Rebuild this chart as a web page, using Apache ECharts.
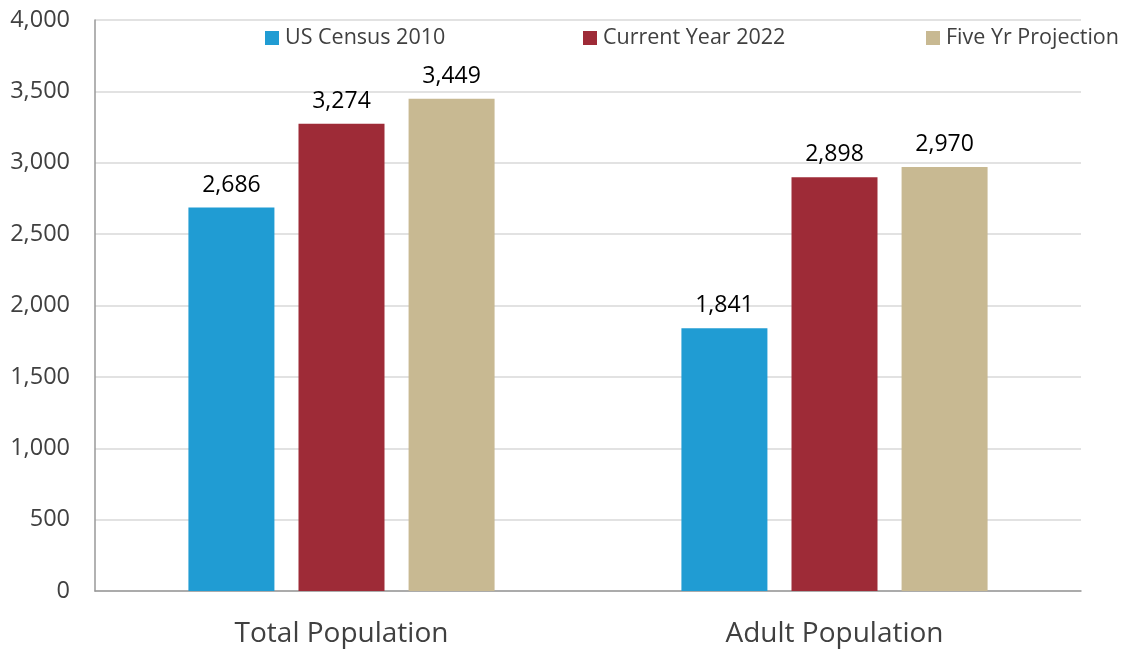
<!DOCTYPE html>
<html><head><meta charset="utf-8">
<script src="https://cdn.jsdelivr.net/npm/echarts@6/dist/echarts.min.js"></script>
<style>html,body{margin:0;padding:0;background:#fff}#c{width:1126px;height:652px}</style>
</head><body><div id="c"></div>
<script>
const categories = ['Total Population', 'Adult Population'];
const seriesNames = ['US Census 2010', 'Current Year 2022', 'Five Yr Projection'];
const census2010 = [2686, 1841];
const current2022 = [3274, 2898];
const fiveYr = [3449, 2970];
const colors = ['#209CD3', '#9E2B37', '#C8B992'];
const FONT = 'Open Sans';
const chart = echarts.init(document.getElementById('c'));
const vals = [census2010, current2022, fiveYr];
const legendLefts = [265, 583, 926];
chart.setOption({
  animation: false,
  textStyle: { fontFamily: FONT },
  legend: seriesNames.map((n, i) => ({
    data: [n], left: legendLefts[i], top: 27, padding: [0,0,0,0], icon: 'rect', itemWidth: 14, itemHeight: 14,
    itemGap: 6, textStyle: { fontSize: 21.5, color: '#404040', fontFamily: FONT, padding: [0,0,0,1] }
  })),
  grid: { left: 95, right: 45, top: 20, bottom: 61, containLabel: false },
  xAxis: {
    type: 'category', data: categories,
    axisLine: { lineStyle: { color: '#999', width: 1.5 } },
    axisTick: { show: false },
    axisLabel: { fontSize: 28, color: '#404040', margin: 29, fontFamily: FONT }
  },
  yAxis: {
    type: 'value', min: 0, max: 4000, interval: 500,
    axisLine: { show: true, lineStyle: { color: '#999', width: 1.5 } },
    axisTick: { show: false },
    splitLine: { lineStyle: { color: '#d9d9d9', width: 1.5 } },
    axisLabel: { fontSize: 23.5, color: '#404040', margin: 25, fontFamily: FONT,
      formatter: v => v.toLocaleString('en-US') }
  },
  series: seriesNames.map((n, i) => ({
    name: n, type: 'bar', data: vals[i], barWidth: 86, barGap: '28%',
    itemStyle: { color: colors[i] },
    label: { show: true, position: 'top', distance: 11, fontSize: 23, color: '#000', fontFamily: FONT,
      formatter: p => p.value.toLocaleString('en-US') }
  }))
});
</script></body></html>
